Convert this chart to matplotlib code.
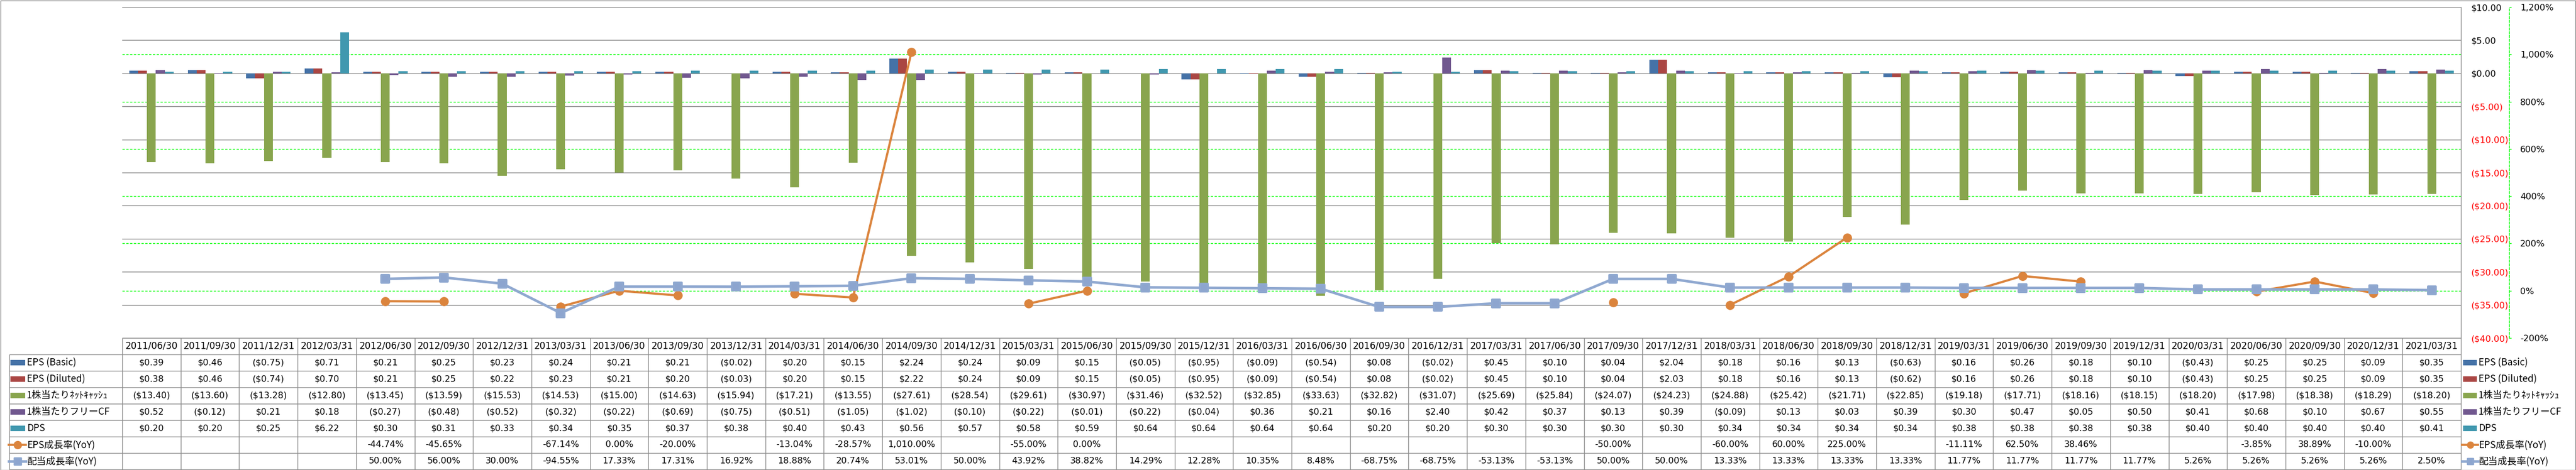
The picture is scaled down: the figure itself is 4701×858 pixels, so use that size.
"""
EPS / DPS quarterly chart with data table (Excel-style layout).
"""

import numpy as np
import matplotlib
matplotlib.use("Agg")  # non-interactive backend
import matplotlib.pyplot as plt
from matplotlib.patches import Rectangle
from matplotlib.markers import MarkerStyle
from matplotlib.transforms import blended_transform_factory

plt.rcParams["font.family"] = ["DejaVu Sans", "Noto Sans CJK JP"]
plt.rcParams["font.size"] = 11.5

nan = np.nan

# ---------------------------------------------------------------------------
# Data
# ---------------------------------------------------------------------------

dates = [
    "2011/06/30", "2011/09/30", "2011/12/31", "2012/03/31", "2012/06/30",
    "2012/09/30", "2012/12/31", "2013/03/31", "2013/06/30", "2013/09/30",
    "2013/12/31", "2014/03/31", "2014/06/30", "2014/09/30", "2014/12/31",
    "2015/03/31", "2015/06/30", "2015/09/30", "2015/12/31", "2016/03/31",
    "2016/06/30", "2016/09/30", "2016/12/31", "2017/03/31", "2017/06/30",
    "2017/09/30", "2017/12/31", "2018/03/31", "2018/06/30", "2018/09/30",
    "2018/12/31", "2019/03/31", "2019/06/30", "2019/09/30", "2019/12/31",
    "2020/03/31", "2020/06/30", "2020/09/30", "2020/12/31", "2021/03/31",
]

eps_basic = [0.39, 0.46, -0.75, 0.71, 0.21, 0.25, 0.23, 0.24, 0.21, 0.21,
             -0.02, 0.20, 0.15, 2.24, 0.24, 0.09, 0.15, -0.05, -0.95, -0.09,
             -0.54, 0.08, -0.02, 0.45, 0.10, 0.04, 2.04, 0.18, 0.16, 0.13,
             -0.63, 0.16, 0.26, 0.18, 0.10, -0.43, 0.25, 0.25, 0.09, 0.35]

eps_diluted = [0.38, 0.46, -0.74, 0.70, 0.21, 0.25, 0.22, 0.23, 0.21, 0.20,
               -0.03, 0.20, 0.15, 2.22, 0.24, 0.09, 0.15, -0.05, -0.95, -0.09,
               -0.54, 0.08, -0.02, 0.45, 0.10, 0.04, 2.03, 0.18, 0.16, 0.13,
               -0.62, 0.16, 0.26, 0.18, 0.10, -0.43, 0.25, 0.25, 0.09, 0.35]

net_cash_ps = [-13.40, -13.60, -13.28, -12.80, -13.45, -13.59, -15.53, -14.53,
               -15.00, -14.63, -15.94, -17.21, -13.55, -27.61, -28.54, -29.61,
               -30.97, -31.46, -32.52, -32.85, -33.63, -32.82, -31.07, -25.69,
               -25.84, -24.07, -24.23, -24.88, -25.42, -21.71, -22.85, -19.18,
               -17.71, -18.16, -18.15, -18.20, -17.98, -18.38, -18.29, -18.20]

fcf_ps = [0.52, -0.12, 0.21, 0.18, -0.27, -0.48, -0.52, -0.32, -0.22, -0.69,
          -0.75, -0.51, -1.05, -1.02, -0.10, -0.22, -0.01, -0.22, -0.04, 0.36,
          0.21, 0.16, 2.40, 0.42, 0.37, 0.13, 0.39, -0.09, 0.13, 0.03,
          0.39, 0.30, 0.47, 0.05, 0.50, 0.41, 0.68, 0.10, 0.67, 0.55]

dps = [0.20, 0.20, 0.25, 6.22, 0.30, 0.31, 0.33, 0.34, 0.35, 0.37,
       0.38, 0.40, 0.43, 0.56, 0.57, 0.58, 0.59, 0.64, 0.64, 0.64,
       0.64, 0.20, 0.20, 0.30, 0.30, 0.30, 0.30, 0.34, 0.34, 0.34,
       0.34, 0.38, 0.38, 0.38, 0.38, 0.40, 0.40, 0.40, 0.40, 0.41]

eps_growth = [nan, nan, nan, nan, -44.74, -45.65, nan, -67.14, 0.00, -20.00,
              nan, -13.04, -28.57, 1010.00, nan, -55.00, 0.00, nan, nan, nan,
              nan, nan, nan, nan, nan, -50.00, nan, -60.00, 60.00, 225.00,
              nan, -11.11, 62.50, 38.46, nan, nan, -3.85, 38.89, -10.00, nan]

div_growth = [nan, nan, nan, nan, 50.00, 56.00, 30.00, -94.55, 17.33, 17.31,
              16.92, 18.88, 20.74, 53.01, 50.00, 43.92, 38.82, 14.29, 12.28, 10.35,
              8.48, -68.75, -68.75, -53.13, -53.13, 50.00, 50.00, 13.33, 13.33, 13.33,
              13.33, 11.77, 11.77, 11.77, 11.77, 5.26, 5.26, 5.26, 5.26, 2.50]

series_names = ["EPS (Basic)", "EPS (Diluted)", "1株当たりﾈｯﾄｷｬｯｼｭ",
                "1株当たりフリーCF", "DPS", "EPS成長率(YoY)", "配当成長率(YoY)"]

money_ticks = list(range(-40, 11, 5))
pct_ticks = list(range(-200, 1201, 200))

# ---------------------------------------------------------------------------
# Styles / layout (pixels of the 4701x858 output)
# ---------------------------------------------------------------------------

BAR_COLORS = ["#4572A7", "#AA4643", "#89A54E", "#71588F", "#4198AF"]
C_EPSG = "#DB843D"
C_DIVG = "#8FA8D0"
GRID_GRAY = "#878787"
TABLE_GRAY = "#8C8C8C"
LIME = "#00FF00"
RED = "#FF0000"
LABEL_FONT = ["Noto Sans CJK JP", "DejaVu Sans"]

W, H = 4701, 858
PLOT_L, PLOT_R = 223, 4491
PLOT_T, PLOT_B = 13, 617
TAB_B = 857
N = len(dates)
CAT_W = (PLOT_R - PLOT_L) / N
PX_PT = 0.72  # points per pixel at dpi 100


def px_x(px: float) -> float:
    """Figure pixel column -> category data coordinate."""
    return -0.5 + (px - PLOT_L) / CAT_W


def money(v: float) -> str:
    return f"(${-v:.2f})" if v < 0 else f"${v:.2f}"


def pct(v: float) -> str:
    return "" if np.isnan(v) else f"{v:,.2f}%"


fig = plt.figure(figsize=(W / 100, H / 100), dpi=100)

ax = fig.add_axes([PLOT_L / W, 1 - PLOT_B / H,
                   (PLOT_R - PLOT_L) / W, (PLOT_B - PLOT_T) / H])
ax2 = ax.twinx()

x = np.arange(N)
bar_series = [eps_basic, eps_diluted, net_cash_ps, fcf_ps, dps]
bw = 0.152
for k, (vals, col) in enumerate(zip(bar_series, BAR_COLORS)):
    ax.bar(x + (k - 2) * bw, vals, bw, color=col, linewidth=0, zorder=2)

ax.set_xlim(-0.5, N - 0.5)
ax.set_ylim(-40, 10)
ax.set_xticks([])
ax.set_yticks(money_ticks, labels=[money(v) for v in money_ticks])
ax.yaxis.tick_right()
ax.tick_params(axis="y", length=0, pad=19 * PX_PT, labelsize=11.5)
for tick, v in zip(ax.yaxis.get_major_ticks(), money_ticks):
    tick.label2.set_color(RED if v < 0 else "black")
ax.yaxis.grid(True, color=GRID_GRAY, linewidth=1.0)
ax.set_axisbelow(True)
for side in ("top", "left", "bottom"):
    ax.spines[side].set_visible(False)
ax.spines["right"].set_color(GRID_GRAY)
ax.spines["right"].set_linewidth(1.0)

# percent axis
ax2.set_ylim(-200, 1200)
ax2.set_yticks(pct_ticks, labels=[f"{v:,}%" for v in pct_ticks])
ax2.tick_params(axis="y", length=3, width=1, color=LIME,
                pad=16 * PX_PT, labelsize=11.5)
for tick, v in zip(ax2.yaxis.get_major_ticks(), pct_ticks):
    tick.label2.set_color(RED if v < 0 else "black")
for side in ("top", "left", "bottom"):
    ax2.spines[side].set_visible(False)
ax2.spines["right"].set_position(("outward", 88 * PX_PT))
ax2.spines["right"].set_color(LIME)
ax2.spines["right"].set_linewidth(1.0)
ax2.spines["right"].set_linestyle((0, (3, 2)))

# green dashed gridlines of the percent axis, behind the bars
gtrans = blended_transform_factory(ax.transAxes, ax2.transData)
for p in pct_ticks[1:-1]:
    ax.plot([0, 1], [p, p], transform=gtrans, color=LIME, linewidth=1.0,
            linestyle=(0, (3, 2)), zorder=1)

sq = MarkerStyle("s", joinstyle="round")
ax2.plot(x, eps_growth, color=C_EPSG, linewidth=2.9, marker="o",
         markersize=11, markeredgecolor=C_EPSG, zorder=3)
ax2.plot(x, div_growth, color=C_DIVG, linewidth=3.4, marker=sq,
         markersize=10, markeredgewidth=2.8, markerfacecolor="#8DA5CF",
         markeredgecolor=C_DIVG, zorder=4)

# ---------------------------------------------------------------------------
# Data table
# ---------------------------------------------------------------------------

tab = fig.add_axes([PLOT_L / W, 1 - TAB_B / H,
                    (PLOT_R - PLOT_L) / W, (TAB_B - PLOT_B) / H])
tab.set_xlim(-0.5, N - 0.5)
tab.set_ylim(8, 0)
tab.axis("off")

x_lab = px_x(17)
tab.hlines(0, -0.5, N - 0.5, color=TABLE_GRAY, linewidth=1.0, clip_on=False)
tab.hlines(np.arange(1, 9), x_lab, N - 0.5, color=TABLE_GRAY,
           linewidth=1.0, clip_on=False)
tab.vlines(np.arange(N + 1) - 0.5, 0, 8, color=TABLE_GRAY,
           linewidth=1.0, clip_on=False)
tab.vlines(x_lab, 1, 8, color=TABLE_GRAY, linewidth=1.0, clip_on=False)

for i, d in enumerate(dates):
    tab.text(i, 0.5, d, ha="center", va="center", fontsize=12)

rows = [[money(v) for v in s] for s in bar_series]
rows += [[pct(v) for v in eps_growth], [pct(v) for v in div_growth]]
for r, row in enumerate(rows, start=1):
    for i, txt in enumerate(row):
        if txt:
            tab.text(i, r + 0.5, txt, ha="center", va="center")


def draw_key(k, x0, x1, yc, ms_scale=1.0):
    if k < 5:
        tab.add_patch(Rectangle((x0, yc - 0.16), x1 - x0, 0.32,
                                color=BAR_COLORS[k], linewidth=0, clip_on=False))
    elif k == 5:
        tab.plot([x0, x1], [yc, yc], color=C_EPSG, linewidth=2.9,
                 clip_on=False)
        tab.plot([(x0 + x1) / 2], [yc], marker="o", markersize=10 * ms_scale,
                 color=C_EPSG, clip_on=False)
    else:
        tab.plot([x0, x1], [yc, yc], color=C_DIVG, linewidth=3.4,
                 clip_on=False)
        tab.plot([(x0 + x1) / 2], [yc], marker=sq, markersize=9 * ms_scale,
                 markeredgewidth=2.5, markerfacecolor="#8DA5CF",
                 markeredgecolor=C_DIVG, linestyle="none", clip_on=False)


# row labels with keys (left column) and the legend (right side)
for k, name in enumerate(series_names):
    yc = k + 1.5
    if k < 5:
        draw_key(k, px_x(19), px_x(46), yc)
    else:
        draw_key(k, px_x(16), px_x(47), yc)
    tab.text(px_x(49), yc, name, ha="left", va="center",
             family=LABEL_FONT, fontsize=12.5)

    if k < 5:
        draw_key(k, px_x(4495), px_x(4520), yc, 0.85)
    else:
        draw_key(k, px_x(4493), px_x(4522), yc, 0.85)
    tab.text(px_x(4523), yc, name, ha="left", va="center",
             family=LABEL_FONT, fontsize=12.5)

# outer chart border
fig.add_artist(Rectangle((0.5 / W, 0.5 / H), 1 - 1.5 / W, 1 - 1.5 / H,
                         transform=fig.transFigure, fill=False,
                         edgecolor="#868686", linewidth=1.0))

fig.savefig("out.png", dpi=100)
plt.close(fig)
